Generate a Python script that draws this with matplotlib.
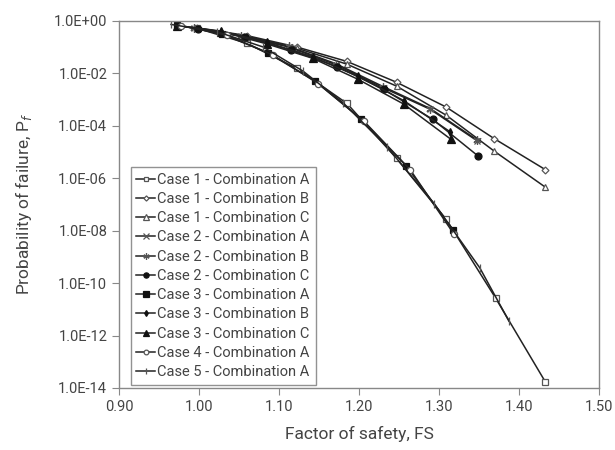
import matplotlib
matplotlib.use("Agg")
import matplotlib.pyplot as plt
from matplotlib.ticker import FixedLocator, FuncFormatter, NullLocator
import numpy as np

plt.rcParams['font.family'] = ['Roboto', 'DejaVu Sans']

# ---- data ----
fs_1a = [0.998, 1.060, 1.122, 1.185, 1.247, 1.309, 1.371, 1.433]
pf_1a = [0.51, 0.137, 0.0153, 7.0e-4, 5.6e-6, 2.7e-8, 2.6e-11, 1.7e-14]

fs_1b = [0.998, 1.060, 1.122, 1.185, 1.247, 1.309, 1.369, 1.433]
pf_1b = [0.53, 0.27, 0.10, 0.028, 4.5e-3, 5.1e-4, 3.2e-5, 2.1e-6]

fs_1c = [0.998, 1.060, 1.122, 1.185, 1.247, 1.309, 1.369, 1.433]
pf_1c = [0.52, 0.25, 0.09, 0.022, 3.2e-3, 2.5e-4, 1.07e-5, 4.5e-7]

fs_2a = [0.994, 1.053, 1.112, 1.171, 1.230, 1.289, 1.348]
pf_2a = [0.52, 0.26, 0.10, 0.021, 2.8e-3, 4.2e-4, 2.6e-5]

fs_2b = [0.994, 1.053, 1.112, 1.171, 1.230, 1.289, 1.348]
pf_2b = [0.53, 0.27, 0.105, 0.023, 3.1e-3, 4.5e-4, 2.8e-5]

fs_2c = [0.999, 1.057, 1.115, 1.173, 1.231, 1.292, 1.349]
pf_2c = [0.50, 0.245, 0.075, 0.0176, 2.4e-3, 1.75e-4, 6.9e-6]

fs_3a = [0.972, 1.029, 1.086, 1.145, 1.2025, 1.259, 1.3175]
pf_3a = [0.69, 0.31, 0.060, 5.0e-3, 1.8e-4, 2.9e-6, 1.07e-8]

fs_3b = [0.972, 1.028, 1.085, 1.142, 1.199, 1.256, 1.314]
pf_3b = [0.66, 0.40, 0.15, 0.042, 7.5e-3, 9.0e-4, 5.8e-5]

fs_3c = [0.972, 1.028, 1.085, 1.142, 1.199, 1.256, 1.315]
pf_3c = [0.65, 0.38, 0.13, 0.037, 5.8e-3, 6.6e-4, 3.0e-5]

fs_4a = [0.978, 1.035, 1.092, 1.149, 1.206, 1.264, 1.319]
pf_4a = [0.65, 0.28, 0.050, 4.0e-3, 1.5e-4, 2.1e-6, 7.1e-9]

fs_5a = [0.965, 1.0225, 1.080, 1.130, 1.180, 1.235, 1.294, 1.351, 1.3875]
pf_5a = [0.72, 0.38, 0.10, 0.012, 7.5e-4, 1.55e-5, 1.07e-7, 3.8e-10, 3.5e-12]

labels = ["Case 1 - Combination A", "Case 1 - Combination B", "Case 1 - Combination C",
          "Case 2 - Combination A", "Case 2 - Combination B", "Case 2 - Combination C",
          "Case 3 - Combination A", "Case 3 - Combination B", "Case 3 - Combination C",
          "Case 4 - Combination A", "Case 5 - Combination A"]

series = [(fs_1a, pf_1a), (fs_1b, pf_1b), (fs_1c, pf_1c),
          (fs_2a, pf_2a), (fs_2b, pf_2b), (fs_2c, pf_2c),
          (fs_3a, pf_3a), (fs_3b, pf_3b), (fs_3c, pf_3c),
          (fs_4a, pf_4a), (fs_5a, pf_5a)]

y_ticks = [1e0, 1e-2, 1e-4, 1e-6, 1e-8, 1e-10, 1e-12, 1e-14]
x_ticks = [0.90, 1.00, 1.10, 1.20, 1.30, 1.40, 1.50]

# ---- styles ----
line_c = '#222222'
edge_c = '#555555'
styles = [
    dict(marker='s', mfc='white', mec=edge_c, ms=4.5),
    dict(marker='D', mfc='white', mec=edge_c, ms=3.5),
    dict(marker='^', mfc='white', mec=edge_c, ms=5),
    dict(marker='x', mfc='none', mec=edge_c, ms=5),
    dict(marker=(6, 2, 0), mfc='none', mec=edge_c, ms=6),
    dict(marker='o', mfc='#111111', mec='#111111', ms=5),
    dict(marker='s', mfc='#111111', mec='#111111', ms=5),
    dict(marker='d', mfc='#111111', mec='#111111', ms=4),
    dict(marker='^', mfc='#111111', mec='#111111', ms=5.5),
    dict(marker='o', mfc='white', mec=edge_c, ms=4.5),
    dict(marker='|', mfc='none', mec=edge_c, ms=6),
]

fig = plt.figure(figsize=(6.15, 4.5), dpi=100)
ax = fig.add_axes([119/615, 1-388/450, 480/615, (388-20.7)/450])

for (x, y), lab, st in zip(series, labels, styles):
    ax.plot(x, y, color=line_c, lw=1.1, label=lab, mew=0.9, **st)

ax.set_yscale('log')
ax.set_xlim(0.90, 1.50)
ax.set_ylim(1e-14, 1e0)
ax.yaxis.set_major_locator(FixedLocator(y_ticks))
ax.yaxis.set_minor_locator(NullLocator())
ax.yaxis.set_major_formatter(FuncFormatter(lambda v, p: "%.1E" % v))
ax.xaxis.set_major_locator(FixedLocator(x_ticks))
ax.xaxis.set_major_formatter(FuncFormatter(lambda v, p: "%.2f" % v))

text_c = '#444444'
for s in ax.spines.values():
    s.set_color('#888888')
    s.set_linewidth(1.0)
ax.tick_params(axis='both', direction='out', length=5, color='#888888',
               labelsize=10.5, labelcolor=text_c)
ax.set_xlabel("Factor of safety, FS", fontsize=12.5, color=text_c, labelpad=9)
ax.set_ylabel("Probability of failure, P$_f$", fontsize=12.5, color=text_c, labelpad=14)

leg = ax.legend(loc='lower left', bbox_to_anchor=(0.024, 0.008), fontsize=10.5,
                frameon=True, fancybox=False, edgecolor='#777777',
                handlelength=1.3, handletextpad=0.15, labelspacing=0.36,
                borderpad=0.4, borderaxespad=0.0, markerscale=0.75)
leg.get_frame().set_linewidth(1.0)
for t in leg.get_texts():
    t.set_color(text_c)

fig.savefig("out.png", dpi=100)
